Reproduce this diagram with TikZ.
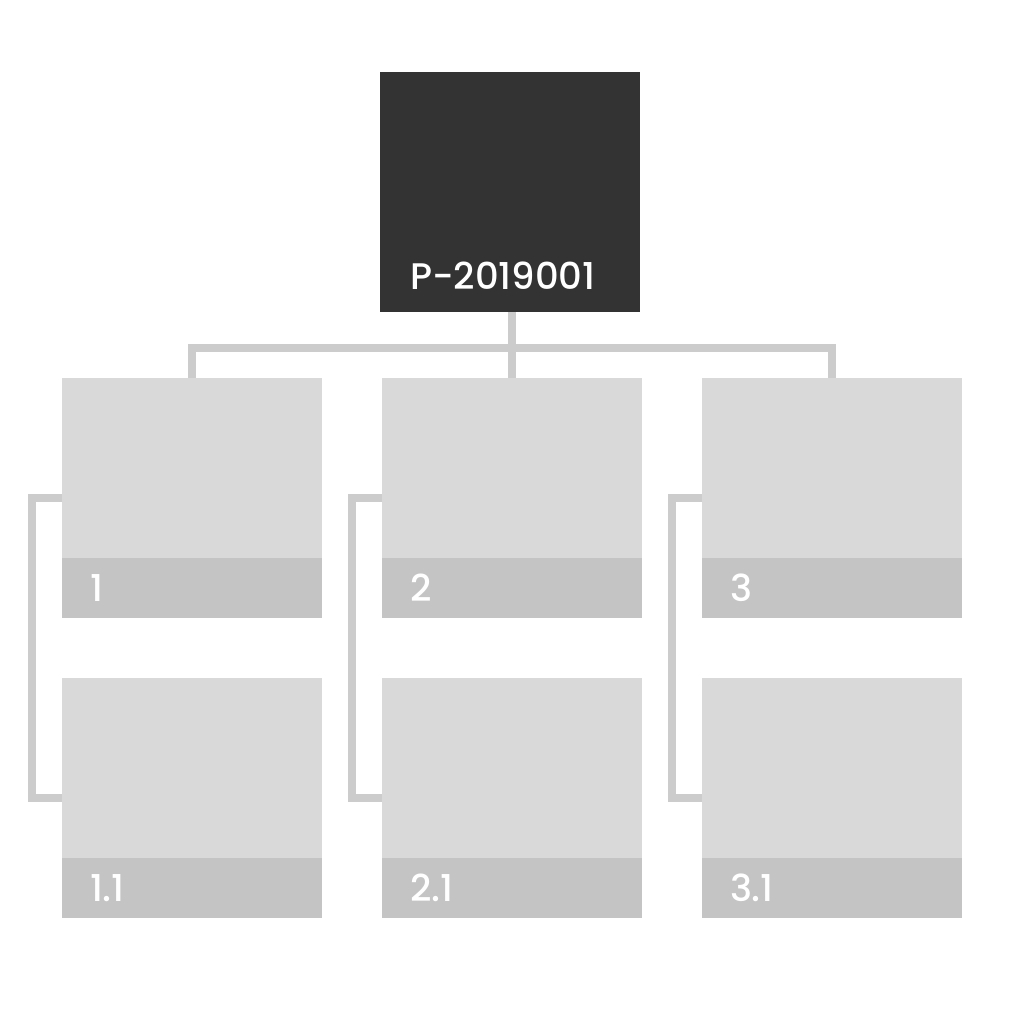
\documentclass[tikz,border=0pt]{standalone}
\usepackage{fontspec}
\setmainfont{Poppins Medium}
\usetikzlibrary{positioning}
\definecolor{rootgray}{HTML}{333333}
\definecolor{boxgray}{HTML}{D9D9D9}
\definecolor{stripgray}{HTML}{C4C4C4}
\definecolor{linkgray}{HTML}{CCCCCC}

\begin{document}
\begin{tikzpicture}[x=1pt, y=1pt,
                every node/.style={inner sep=0pt, outer sep=0pt}, % Plain boxes, no padding
                root/.style={rectangle, fill=rootgray, minimum width=260pt, minimum height=240pt}, % Dark top box
                card/.style={rectangle, fill=boxgray, minimum width=260pt, minimum height=180pt}, % Light box
                strip/.style={rectangle, fill=stripgray, minimum width=260pt, minimum height=60pt}, % Label band
                tag/.style={anchor=base west, text=white, font=\fontsize{37}{37}\selectfont}, % White labels
                link/.style={draw=linkgray, line width=8pt} % Connectors
                ]
                \useasboundingbox (0,0) rectangle (1024,1024);
                \node[root] (root) at (510,832) {};
                \node[card] (c1) at (192,556) {};
                \node[strip, below=0pt of c1] (s1) {};
                \node[card, right=60pt of c1] (c2) {};
                \node[strip, below=0pt of c2] (s2) {};
                \node[card, right=60pt of c2] (c3) {};
                \node[strip, below=0pt of c3] (s3) {};
                \node[card, below=60pt of s1] (c11) {};
                \node[strip, below=0pt of c11] (s11) {};
                \node[card, below=60pt of s2] (c21) {};
                \node[strip, below=0pt of c21] (s21) {};
                \node[card, below=60pt of s3] (c31) {};
                \node[strip, below=0pt of c31] (s31) {};
                % labels
                \node[tag] (troot) at ([shift={(30,22)}]root.south west) {P-2019001};
                \node[tag] (t1) at ([shift={(28,16)}]s1.south west) {1};
                \node[tag] (t2) at ([shift={(28,16)}]s2.south west) {2};
                \node[tag] (t3) at ([shift={(28,16)}]s3.south west) {3};
                \node[tag] (t11) at ([shift={(28,16)}]s11.south west) {1.1};
                \node[tag] (t21) at ([shift={(28,16)}]s21.south west) {2.1};
                \node[tag] (t31) at ([shift={(28,16)}]s31.south west) {3.1};
                % connectors
                \coordinate (bus) at (0,676);
                \draw[link] (c2 |- root.south) -- (c2.north);
                \draw[link] (c1.north) -- (c1 |- bus) -- (c3 |- bus) -- (c3.north);
                \foreach \a/\b in {c1/c11, c2/c21, c3/c31}
                    \draw[link] ([yshift=-30pt]\a.west) -- ++(-30,0) |- ([yshift=-30pt]\b.west);
            \end{tikzpicture}
\end{document}
